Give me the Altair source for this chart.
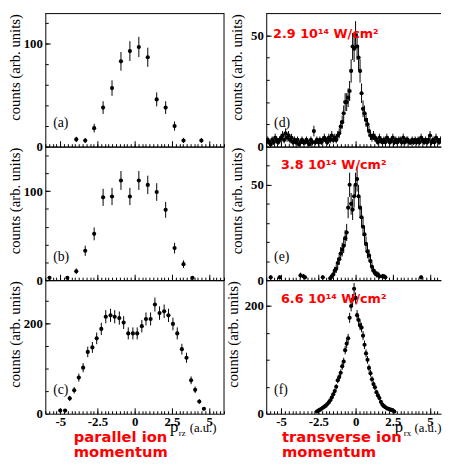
import altair as alt
import pandas as pd

# ---------------- data ----------------
a_x = [-3.92, -3.32, -2.72, -2.12, -1.52, -0.92, -0.32, 0.28, 0.88, 1.48, 2.08, 2.68, 3.28, 4.48]
a_y = [7, 6, 18, 38, 57, 83, 93, 97, 87, 46, 38, 20, 6, 6]

b_x = [-5.72, -4.52, -3.92, -3.32, -2.72, -2.12, -1.52, -0.92, -0.32, 0.28, 0.88, 1.48, 2.08, 2.68, 3.28, 3.88]
b_y = [2.6, 2.6, 10, 33, 52, 93, 94, 112, 94, 112, 107, 99, 79, 36, 18, 2.6]

c_x = [-5.0, -4.67, -4.36, -4.06, -3.75, -3.46, -3.15, -2.84, -2.55, -2.24, -1.94, -1.62, -1.34,
       -1.03, -0.74, -0.43, -0.12, 0.17, 0.48, 0.76, 1.07, 1.36, 1.67, 1.98, 2.27, 2.57, 2.86,
       3.17, 3.48, 3.79, 4.06, 4.34, 4.65]
c_y = [7, 7, 34, 52, 80, 102, 137, 147, 167, 188, 215, 218, 215, 212, 202, 178, 178, 178, 194,
       210, 210, 242, 223, 227, 218, 199, 178, 143, 124, 74, 53, 27, 11]

d_x = [-6.0, -5.9, -5.8, -5.7, -5.6, -5.5, -5.4, -5.3, -5.2, -5.1,
       -5.0, -4.9, -4.8, -4.7, -4.6, -4.5, -4.4, -4.3, -4.2, -4.1,
       -4.0, -3.9, -3.8, -3.7, -3.6, -3.5, -3.4, -3.3, -3.2, -3.1,
       -3.0, -2.9, -2.8, -2.7, -2.6, -2.5, -2.4, -2.3, -2.2, -2.1,
       -2.0, -1.9, -1.8, -1.7, -1.6, -1.5, -1.4, -1.3, -1.2, -1.1,
       -1.0, -0.9, -0.8, -0.7, -0.6, -0.5, -0.4, -0.3, -0.2, -0.1,
       0.0, 0.1, 0.2, 0.3, 0.4, 0.5, 0.6, 0.7, 0.8, 0.9,
       1.0, 1.1, 1.2, 1.3, 1.4, 1.5, 1.6, 1.7, 1.8, 1.9,
       2.0, 2.1, 2.2, 2.3, 2.4, 2.5, 2.6, 2.7, 2.8, 2.9,
       3.0, 3.1, 3.2, 3.3, 3.4, 3.5, 3.6, 3.7, 3.8, 3.9,
       4.0, 4.1, 4.2, 4.3, 4.4, 4.5, 4.6, 4.7, 4.8, 4.9,
       5.0, 5.1, 5.2, 5.3, 5.4, 5.5, 5.6, 5.7, 5.8, 5.9, 6.0]
d_y = [2, 3, 2, 1, 3, 2, 4, 3, 2, 3,
       4, 5, 3, 6, 4, 5, 3, 4, 2, 3,
       2, 3, 1, 2, 3, 2, 2, 3, 2, 1,
       3, 2, 7, 2, 3, 2, 3, 2, 3, 4,
       3, 2, 4, 3, 5, 3, 4, 3, 5, 6,
       9, 11, 15, 20, 20, 22, 25, 34, 45, 44,
       50, 45, 40, 34, 24, 17, 15, 12, 10, 7,
       5, 4, 5, 4, 3, 2, 4, 3, 2, 3,
       2, 4, 3, 2, 3, 4, 2, 3, 2, 3,
       3, 2, 4, 2, 3, 3, 2, 2, 3, 2,
       3, 2, 3, 2, 4, 3, 2, 3, 2, 3,
       5, 2, 3, 2, 4, 3, 2, 3, 3, 2, 3]

e_x = [-5.7, -5.1, -3.7, -3.5, -3.4, -2.2, -1.7, -1.6, -1.5, -1.4, -1.3, -1.2, -1.1, -1.0, -0.9,
       -0.8, -0.7, -0.6, -0.5, -0.4, -0.3, -0.2, -0.1, 0.0, 0.1, 0.2, 0.3, 0.4, 0.5, 0.6, 0.7,
       0.8, 0.9, 1.0, 1.1, 1.2, 1.3, 1.4, 1.5, 1.6, 1.8, 1.9, 2.0, 4.4]
e_y = [1.5, 1.5, 2.5, 2, 1.5, 1.5, 1, 2, 3, 5, 6, 9, 11, 14, 16,
       18, 22, 25, 38, 50, 40, 37, 44, 50, 53, 44, 38, 33, 28, 24, 19,
       15, 13, 10, 7, 5, 4, 3, 3, 2, 2, 2, 1.5, 1.5]

f_x = [-2.6, -2.5, -2.4, -2.3, -2.2, -2.1, -2.0, -1.9, -1.8, -1.7, -1.6, -1.5, -1.4, -1.3,
       -1.2, -1.1, -1.0, -0.9, -0.8, -0.7, -0.6, -0.5, -0.4, -0.3, -0.2, -0.1, 0.0,
       0.1, 0.2, 0.3, 0.4, 0.5, 0.6, 0.7, 0.8, 0.9, 1.0, 1.1, 1.2, 1.3, 1.4, 1.5, 1.6,
       1.7, 1.8, 1.9, 2.0, 2.1, 2.2, 2.3, 2.4, 2.5, 2.6]
f_y = [4, 6, 7, 9, 11, 13, 15, 18, 21, 25, 30, 36, 42, 50,
       62, 68, 76, 88, 97, 118, 130, 140, 178, 200, 212, 232, 215,
       183, 174, 164, 160, 145, 128, 112, 100, 85, 75, 64, 55, 49, 40, 34, 29,
       22, 17, 14, 12, 10, 9, 8, 7, 6, 4]

x_major = [-5, -2.5, 0, 2.5, 5]
x_minor = [round(-6 + 0.25 * i, 2) for i in range(49)]
y_title = "counts (arb. units)"

SERIF = "Liberation Serif"
SANS = "DejaVu Sans"
H = 136
ONE = pd.DataFrame({"k": [0]})


def txt(s, x, y, **kw):
    return alt.Chart(pd.DataFrame({"t": [s]})).mark_text(**kw).encode(
        x=alt.value(x), y=alt.value(y), text="t:N")


def panel(xs, ys, err_scale, ymax, y_major, y_minor_step, label, xmax, width,
          bottom, right_frame, red=None, red_pos=(0, 0), sub="", red_lines=None,
          sub_x=131, red_x=29, title_x=-23):
    df = pd.DataFrame({"x": xs, "y": ys})
    xsc = alt.Scale(domain=[-6, xmax], nice=False, zero=False)
    ysc = alt.Scale(domain=[0, ymax], nice=False, zero=True)
    y_minor = [v for v in range(0, int(ymax), y_minor_step)]
    xm = [v for v in x_minor if v <= xmax]
    base = alt.Chart(df).transform_calculate(
        lo=f"datum.y - {err_scale} * sqrt(datum.y)",
        hi=f"datum.y + {err_scale} * sqrt(datum.y)",
    )
    main_x = alt.Axis(orient="bottom", values=x_major, ticks=False, tickSize=0,
                      domain=True, domainColor="black", labels=bottom,
                      labelExpr="'' + datum.value", labelFont=SERIF,
                      labelFontWeight="bold", labelFontSize=13, labelPadding=2,
                      labelColor="black", labelOverlap=False, labelFlush=False,
                      title=None, grid=False, minExtent=0)
    main_y = alt.Axis(orient="left", values=[0, y_major], ticks=False, tickSize=0,
                      domain=True, domainColor="black", labelFont=SERIF,
                      labelFontWeight="bold", labelFontSize=13, labelPadding=3,
                      labelColor="black", labelFlush=False, labelOverlap=False,
                      title=None, grid=False, minExtent=0)
    clip = xmax < 6
    rules = base.mark_rule(color="black", strokeWidth=1, clip=clip).encode(
        x=alt.X("x:Q", scale=xsc, axis=main_x),
        y=alt.Y("lo:Q", scale=ysc, axis=main_y),
        y2="hi:Q",
    )
    pts = base.mark_circle(size=18, color="black", opacity=1, clip=clip).encode(
        x=alt.X("x:Q", scale=xsc,
                axis=alt.Axis(orient="bottom", values=x_major, offset=-6, tickSize=6,
                              domain=False, labels=False, title=None, grid=False,
                              tickColor="black", minExtent=0)),
        y=alt.Y("y:Q", scale=ysc,
                axis=alt.Axis(orient="left", values=[y_major], offset=-5, tickSize=5,
                              domain=False, labels=False, title=None, grid=False,
                              tickColor="black", minExtent=0)),
    )
    minor = base.mark_point(opacity=0, clip=True).encode(
        x=alt.X("x:Q", scale=xsc,
                axis=alt.Axis(orient="bottom", values=xm, offset=-3, tickSize=3,
                              domain=False, labels=False, title=None, grid=False,
                              tickColor="black", minExtent=0)),
        y=alt.Y("y:Q", scale=ysc,
                axis=alt.Axis(orient="left", values=y_minor, offset=-3, tickSize=3,
                              domain=False, labels=False, title=None, grid=False,
                              tickColor="black", minExtent=0)),
    )
    top_line = alt.Chart(ONE).mark_rule(color="black", strokeWidth=1).encode(
        x=alt.value(0), x2=alt.value(width), y=alt.value(0.5))
    layers = [rules, pts, minor, top_line]
    if right_frame:
        layers.append(alt.Chart(ONE).mark_rule(color="black", strokeWidth=1).encode(
            x=alt.value(width), y=alt.value(0), y2=alt.value(H)))
    layers.append(txt(y_title, title_x, 1, font=SERIF, fontSize=15, angle=270,
                      align="right", baseline="bottom", color="black"))
    layers.append(txt(label, 8, H - 20, font=SERIF, fontSize=14, align="left",
                      baseline="alphabetic", color="black"))
    if red:
        layers.append(txt(red, red_pos[0], red_pos[1], font=SANS, fontSize=13,
                          fontWeight="bold", color="#ff0000", align="left",
                          baseline="alphabetic"))
    if bottom:
        layers.append(txt("p", sub_x, H + 19, font=SERIF, fontSize=17, color="black",
                          align="left", baseline="alphabetic"))
        layers.append(txt(sub, sub_x + 9, H + 23, font=SERIF, fontSize=9, color="black",
                          align="left", baseline="alphabetic"))
        layers.append(txt("(a.u.)", sub_x + 20, H + 19, font=SERIF, fontSize=13,
                          color="black", align="left", baseline="alphabetic"))
        for k, line in enumerate(red_lines):
            layers.append(txt(line, red_x, H + 29 + 15 * k, font=SANS, fontSize=15,
                              fontWeight="bold", color="#ff0000", align="left",
                              baseline="alphabetic"))
    return alt.layer(*layers).resolve_axis(x="independent", y="independent").properties(
        width=width, height=H)


WL, WR = 182, 178
XR = -6 + WR * 12 / 182

pa = panel(a_x, a_y, 1.0, 130, 100, 20, "(a)", 6, WL, False, True)
pb = panel(b_x, b_y, 1.0, 150, 100, 20, "(b)", 6, WL, False, True)
pc = panel(c_x, c_y, 1.0, 296, 200, 50, "(c)", 6, WL, True, True, sub="rz",
           red_lines=["parallel ion", "momentum"], sub_x=127, red_x=29)
pd_ = panel(d_x, d_y, 0.9, 60, 50, 10, "(d)", XR, WR, False, False,
            red="2.9 10¹⁴ W/cm²", red_pos=(7, 25), title_x=-22)
pe = panel(e_x, e_y, 0.9, 70, 50, 10, "(e)", XR, WR, False, False,
           red="3.8 10¹⁴ W/cm²", red_pos=(15, 23), title_x=-22)
pf = panel(f_x, f_y, 0.7, 248, 200, 50, "(f)", XR, WR, True, False, sub="rx",
           red="6.6 10¹⁴ W/cm²", red_pos=(15, 23),
           red_lines=["transverse ion", "momentum"], sub_x=131, red_x=16, title_x=-26)

chart = alt.concat(pa, pd_, pb, pe, pc, pf, columns=2,
                   spacing=alt.RowColnumber(row=0, column=43),
                   bounds="flush").properties(
    padding={"top": 0, "bottom": -2, "left": 0, "right": 0}, background="white"
).configure_view(stroke=None).configure_axis(grid=False)

chart.save("out.html", embed_options={"renderer": "svg", "actions": False})
